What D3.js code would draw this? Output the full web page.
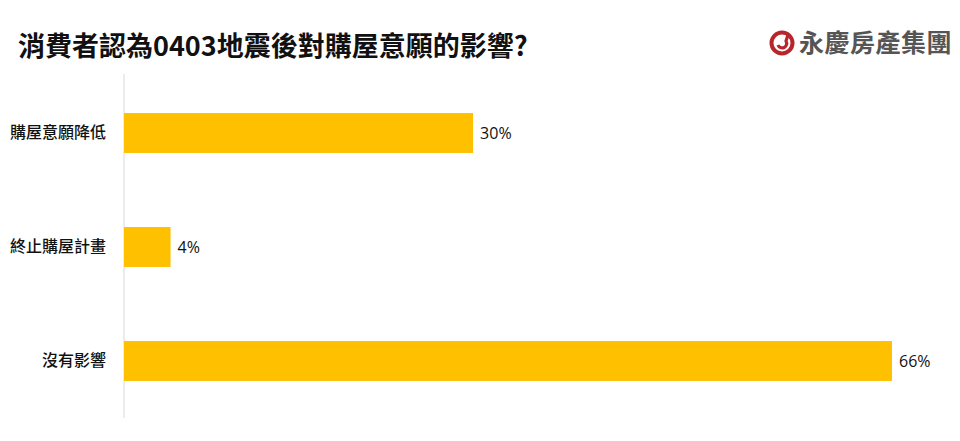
<!DOCTYPE html>
<html><head><meta charset="utf-8">
<script src="https://cdn.jsdelivr.net/npm/d3@7"></script>
<style>body{margin:0;background:#fff}svg{display:block}</style>
</head><body>
<svg id="c" width="960" height="441"></svg>
<script>
const categories = ["購屋意願降低", "終止購屋計畫", "沒有影響"];
const values = [30, 4, 66];
const valueLabels = ["30%", "4%", "66%"];
const title = "消費者認為0403地震後對購屋意願的影響?";
const brand = "永慶房產集團";

const svg = d3.select("#c");
const font = "'Noto Sans CJK TC','Noto Sans CJK SC',sans-serif";
const left = 124;
const x = d3.scaleLinear().domain([0, 66]).range([left, 892]);
const y = d3.scaleBand().domain(categories).range([76, 418]).paddingInner(0.65).paddingOuter(0.325);

svg.append("text").attr("x", 18).attr("y", 56).text(title)
  .attr("font-family", font).attr("font-weight", 700).attr("font-size", 27).attr("fill", "#111");

// logo
const lg = svg.append("g").attr("transform", "translate(782,43)");
lg.append("circle").attr("r", 10.5).attr("fill", "none").attr("stroke", "#b8262c").attr("stroke-width", 4);
lg.append("path").attr("d", "M-4,2 A4.5,4.5 0 1 0 4,-2 L6,-8").attr("fill", "none").attr("stroke", "#b8262c").attr("stroke-width", 3.2);
svg.append("text").attr("x", 799).attr("y", 52).text(brand)
  .attr("font-family", font).attr("font-weight", 700).attr("font-size", 25).attr("fill", "#555")
  .attr("letter-spacing", 0.5);

svg.append("line").attr("x1", left).attr("x2", left).attr("y1", 74).attr("y2", 418)
  .attr("stroke", "#e6e6e6").attr("stroke-width", 1.5);

const yAxis = d3.axisLeft(y).tickSize(0).tickPadding(18);
const ga = svg.append("g").attr("transform", `translate(${left},0)`).call(yAxis);
ga.select(".domain").remove();
ga.selectAll("text").attr("font-family", font).attr("font-size", 16).attr("font-weight", 500).attr("fill", "#111");

svg.selectAll("rect.bar").data(values).join("rect").attr("class", "bar")
  .attr("x", left).attr("y", (d, i) => y(categories[i]))
  .attr("width", d => x(d) - left).attr("height", y.bandwidth())
  .attr("fill", "#FFC000");

svg.selectAll("text.val").data(values).join("text").attr("class", "val")
  .attr("x", d => x(d) + 7).attr("y", (d, i) => y(categories[i]) + y.bandwidth() / 2)
  .attr("dy", "0.35em").text((d, i) => valueLabels[i])
  .attr("font-family", "'Open Sans',sans-serif").attr("font-size", 16).attr("fill", "#111");
</script>
</body></html>
